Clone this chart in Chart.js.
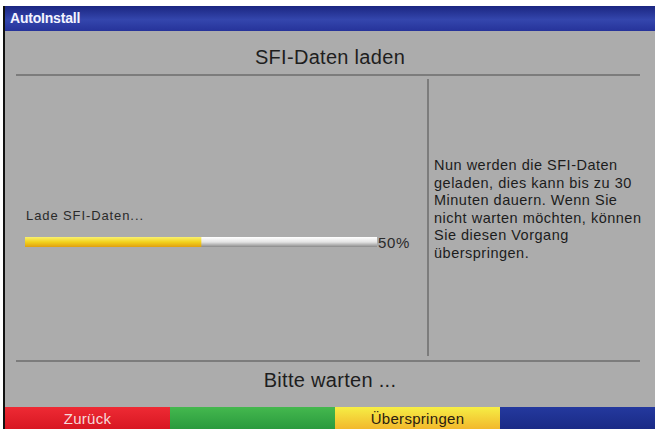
<!DOCTYPE html>
<html>
<head>
<meta charset="utf-8">
<script src="https://cdn.jsdelivr.net/npm/chart.js@4"></script>
<style>
  body { margin:0; width:655px; height:429px; background:#fff; overflow:hidden; font-family:"Liberation Sans", Arial, sans-serif; position:relative; }
  .edge { position:absolute; left:3px; top:6px; width:2px; height:423px; background:#111; }
  .titlebar { position:absolute; left:5px; top:6px; width:650px; height:25px; background:linear-gradient(#1b2681, #3446ad 55%, #26339a); }
  .titlebar span { position:absolute; left:5px; top:4px; color:#f4f4ff; font-weight:bold; font-size:14px; letter-spacing:-0.2px; }
  .body { position:absolute; left:5px; top:31px; width:650px; height:376px; background:#acacac; }
  .hline { position:absolute; height:2px; background:#7c7c7c; }
  .vline { position:absolute; width:2px; background:#7c7c7c; }
  .head { position:absolute; left:5px; width:650px; text-align:center; color:#1e1e1e; font-size:20px; letter-spacing:0.3px; }
  .lade { position:absolute; left:26px; top:208px; font-size:13px; letter-spacing:0.9px; color:#2a2a2a; }
  .pct { position:absolute; left:378px; top:234px; font-size:15px; letter-spacing:0.6px; color:#2a2a2a; }
  .info { position:absolute; left:434px; top:157px; font-size:14.5px; line-height:17.6px; letter-spacing:0.5px; color:#1c1c1c; }
  #bar { position:absolute; left:25px; top:237px; width:352px; height:10px; }
  .btn { position:absolute; top:407px; height:22px; text-align:center; font-size:15px; line-height:23px; letter-spacing:0.3px; }
</style>
</head>
<body>
<div class="edge"></div>
<div class="titlebar"><span>AutoInstall</span></div>
<div class="body"></div>
<div class="head" style="top:46px;">SFI-Daten laden</div>
<div class="hline" style="left:16px; top:74px; width:624px;"></div>
<div class="vline" style="left:427px; top:79px; height:277px;"></div>
<div class="hline" style="left:16px; top:360px; width:624px;"></div>
<div class="lade">Lade SFI-Daten...</div>
<div id="bar"><canvas id="myChart"></canvas></div>
<div class="pct" id="pct"></div>
<div class="info">Nun werden die SFI-Daten<br>geladen, dies kann bis zu 30<br>Minuten dauern. Wenn Sie<br>nicht warten möchten, können<br>Sie diesen Vorgang<br>überspringen.</div>
<div class="head" style="top:369px;">Bitte warten ...</div>
<div class="btn" style="left:5px; width:165px; background:linear-gradient(#ee2a34, #d81722); color:#f6dada;">Zurück</div>
<div class="btn" style="left:170px; width:165px; background:linear-gradient(#44b84e, #2a9a3e);"></div>
<div class="btn" style="left:335px; width:165px; background:linear-gradient(#f6ee45, #f2b82c); color:#2a2010;">Überspringen</div>
<div class="btn" style="left:500px; width:155px; background:linear-gradient(#24399e, #1a2a86);"></div>

<script>
const labels = ['SFI'];
const loaded = [50];
const remaining = [50];

document.getElementById('pct').textContent = loaded[0] + '%';

const ctx = document.getElementById('myChart');

const cfg = {
    type: 'bar',
    data: {
        labels: labels,
        datasets: [{
            label: 'geladen',
            data: loaded,
            backgroundColor: function(c) {
                const a = c.chart.chartArea;
                if (!a) return '#f0c020';
                const g = c.chart.ctx.createLinearGradient(0, a.top, 0, a.bottom);
                g.addColorStop(0, '#f8f070');
                g.addColorStop(0.5, '#f2d21c');
                g.addColorStop(1, '#e0a010');
                return g;
            },
            borderWidth: 0
        }, {
            label: 'offen',
            data: remaining,
            backgroundColor: function(c) {
                const a = c.chart.chartArea;
                if (!a) return '#ddd';
                const g = c.chart.ctx.createLinearGradient(0, a.top, 0, a.bottom);
                g.addColorStop(0, '#ffffff');
                g.addColorStop(0.5, '#e4e4e4');
                g.addColorStop(1, '#8a8a8a');
                return g;
            },
            borderWidth: 0
        }]
    },
    options: {
        indexAxis: 'y',
        responsive: true,
        maintainAspectRatio: false,
        animation: false,
        datasets: { bar: { barPercentage: 1, categoryPercentage: 1 } },
        layout: { padding: 0 },
        plugins: { legend: { display: false }, tooltip: { enabled: false } },
        scales: {
            x: { stacked: true, min: 0, max: 100, display: false },
            y: { stacked: true, display: false }
        }
    }
};

let chart = new Chart(ctx, cfg);
</script>
</body>
</html>
